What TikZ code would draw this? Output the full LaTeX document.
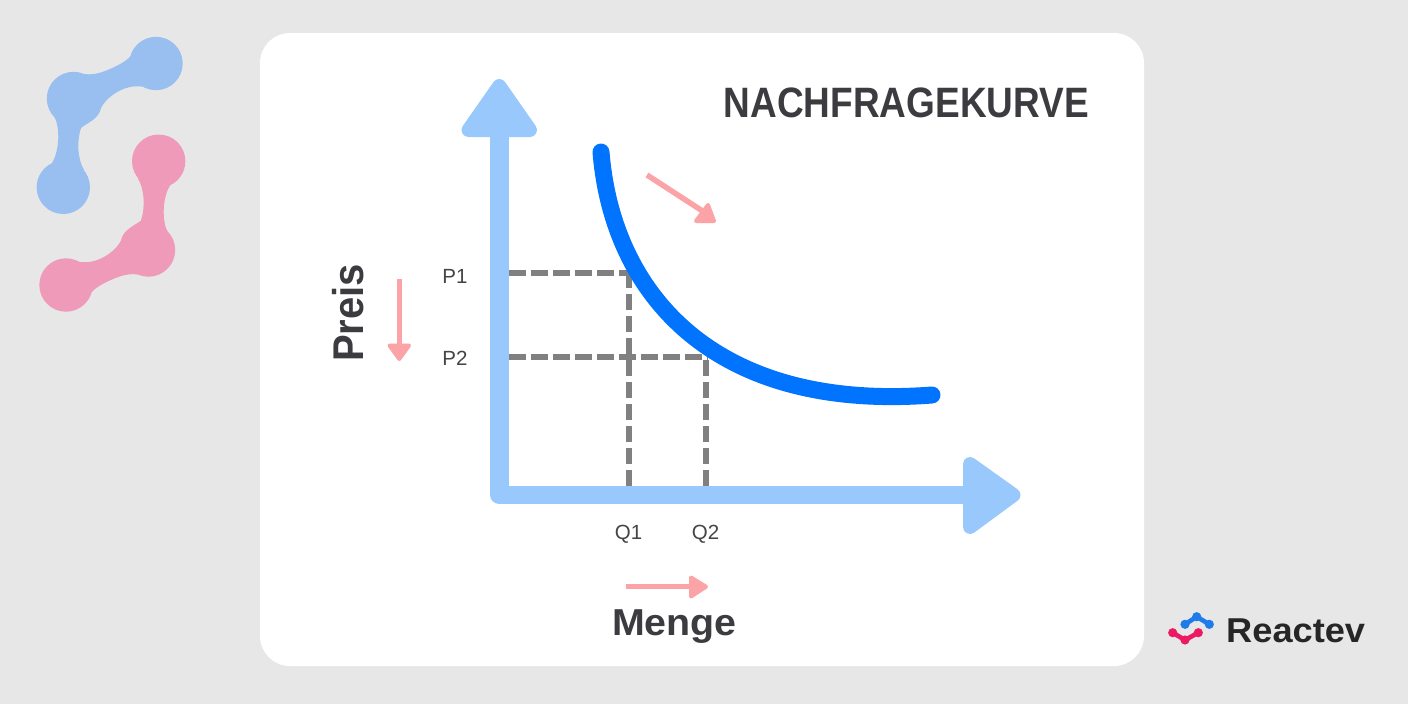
\documentclass[tikz,border=0pt]{standalone}
\usepackage{graphicx}
\usepackage{fontspec}
\setmainfont{Liberation Sans}
\definecolor{bgc}{HTML}{E7E7E7}
\definecolor{axisc}{HTML}{99C9FC}
\definecolor{curvec}{HTML}{0073FF}
\definecolor{pinkarrow}{HTML}{FBA3A6}
\definecolor{dashc}{HTML}{808080}
\definecolor{inkc}{HTML}{3B3B40}
\definecolor{tickc}{HTML}{454548}
\definecolor{blobblue}{HTML}{98BFEF}
\definecolor{blobpink}{HTML}{F09AB9}
\definecolor{logoblue}{HTML}{1F7BEA}
\definecolor{logopink}{HTML}{EC1A63}
\newcommand{\hstretch}[2]{\scalebox{#1}[1]{#2}}
\newcommand{\blobshape}[1]{%
  \fill[#1] (156,63.5) circle (26.7) (73.5,98.5) circle (26.7) (63.3,187.3) circle (26.7);
  \fill[#1] (130.6,56) .. controls (126,62) and (113,68) .. (105,71)
    .. controls (98,74) and (90,75) .. (84,74)
    -- (73.5,98.5) -- (54,116)
    .. controls (60,126) and (60,150) .. (52,163)
    -- (63.3,187.3) -- (84,170)
    .. controls (77,158) and (77,140) .. (81,128)
    .. controls (87,123) and (99,119) .. (101,108)
    .. controls (105,100) and (116,90) .. (130,87)
    .. controls (135,86) and (140,86) .. (145,87)
    -- (156,63.5) -- cycle;
}
\tikzset{
  axisline/.style={draw=axisc,line width=18.6pt},
  axishead/.style={fill=axisc,draw=axisc,line width=14pt,line join=round},
  guide/.style={draw=dashc,line width=5.4pt,dash pattern=on 16.5pt off 5.5pt},
  trend/.style={draw=pinkarrow,line width=5.5pt},
  trendhead/.style={fill=pinkarrow,draw=pinkarrow,line width=4pt,line join=round},
  ticklabel/.style={font=\fontsize{20.5}{24}\selectfont,text=tickc,inner sep=0pt,anchor=base},
  axislabel/.style={font=\bfseries,text=inkc,inner sep=0pt,anchor=base},
  logoline/.style={line width=4.6pt,line join=round},
}
\begin{document}
\begin{tikzpicture}[x=1pt,y=-1pt]
\useasboundingbox (0,0) rectangle (1408,704);
\fill[bgc] (0,0) rectangle (1408,704);
\fill[white,rounded corners=30pt] (260,33) rectangle (1144,666);
\blobshape{blobblue}
\begin{scope}[shift={(222,348.5)},rotate=180]
\blobshape{blobpink}
\end{scope}
% guides
\coordinate (p1a) at (509,273); \coordinate (p1b) at (631,273);
\coordinate (p2a) at (509,356.8); \coordinate (p2b) at (708,356.8);
\coordinate (q1a) at (629,271); \coordinate (q1b) at (629,486);
\coordinate (q2a) at (706,355); \coordinate (q2b) at (706,486);
\draw[guide] (p1a) -- (p1b);
\draw[guide] (p2a) -- (p2b);
\draw[guide] (q1b) -- (q1a);
\draw[guide] (q2b) -- (q2a);
% axes
\coordinate (origin) at (499.3,495);
\coordinate (ytop) at (499.3,125);
\coordinate (xend) at (975,495);
\draw[axisline,line join=round] (ytop) -- (origin) -- (xend);
\fill[axishead] (468.5,130) -- (499.3,86) -- (530,130) -- cycle;
\fill[axishead] (970,464) -- (1013.5,495) -- (970,527) -- cycle;
% demand curve
\coordinate (ca) at (601,152);
\coordinate (cb) at (932,395);
\draw[curvec,line width=17pt,line cap=round] (ca) .. controls (612,290) and (710,412) .. (cb);
% trend arrows
\coordinate (ta) at (647,175); \coordinate (tb) at (704,212);
\draw[trend] (ta) -- (tb);
\fill[trendhead] (708,205) -- (714,221) -- (696,221) -- cycle;
\coordinate (pa) at (399.3,279); \coordinate (pb) at (399.3,350);
\draw[trend] (pa) -- (pb);
\fill[trendhead] (389.5,345.5) -- (409,345.5) -- (399.3,359) -- cycle;
\coordinate (qa) at (626,586.7); \coordinate (qb) at (695,586.7);
\draw[trend] (qa) -- (qb);
\fill[trendhead] (691,577.5) -- (706,586.7) -- (691,596.5) -- cycle;
% labels
\node[anchor=base east,inner sep=0pt,font=\bfseries\fontsize{42.5}{48}\selectfont,text=inkc] (title) at (1089,117) {\hstretch{0.87}{NACHFRAGEKURVE}};
\node[ticklabel] (p1) at (455,283) {P1};
\node[ticklabel] (p2) at (455,365) {P2};
\node[ticklabel] (q1) at (628.5,539.5) {Q1};
\node[ticklabel] (q2) at (705.5,539.5) {Q2};
\node[axislabel,font=\bfseries\fontsize{37.5}{44}\selectfont] (menge) at (674.5,635) {\hstretch{1.05}{Menge}};
\node[axislabel,rotate=90,font=\bfseries\fontsize{43}{48}\selectfont] (preis) at (363,313) {\hstretch{0.93}{Preis}};
% logo
\draw[logoblue,logoline] (1185,624.3) -- (1196.7,616.7) -- (1209.3,624.3);
\fill[logoblue] (1185,624.3) circle (4.6) (1196.7,616.7) circle (4.6) (1209.3,624.3) circle (4.6);
\draw[logopink,logoline] (1172.7,632.7) -- (1185,640) -- (1198.3,632.7);
\fill[logopink] (1172.7,632.7) circle (4.6) (1185,640) circle (4.6) (1198.3,632.7) circle (4.6);
\node[anchor=base west,inner sep=0pt,font=\bfseries\fontsize{34.5}{42}\selectfont,text=black!85] (brand) at (1226,642) {\hstretch{1.05}{Reactev}};
\end{tikzpicture}
\end{document}
